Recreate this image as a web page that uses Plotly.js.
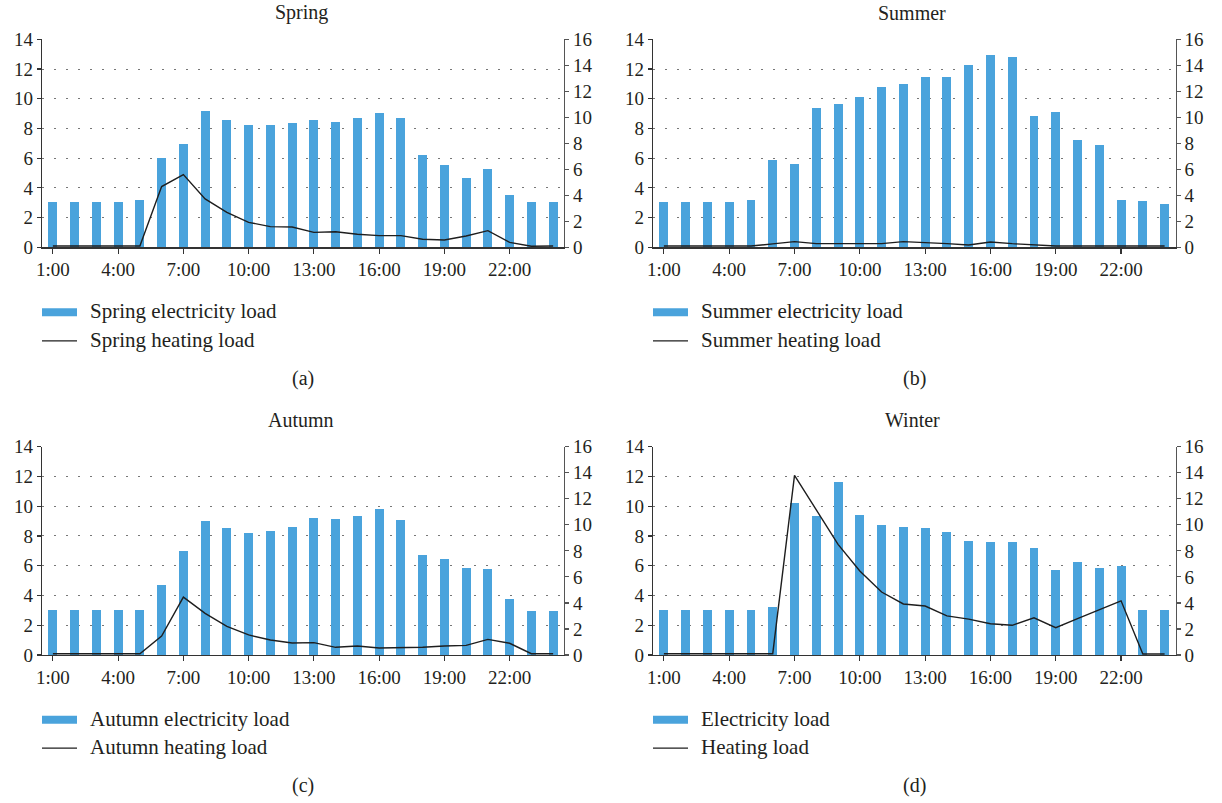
<!DOCTYPE html>
<html><head><meta charset="utf-8">
<script src="https://cdn.plot.ly/plotly-3.0.1.min.js"></script>
<style>html,body{margin:0;padding:0;background:#fff}#chart{width:1222px;height:803px}</style>
</head><body><div id="chart"></div>
<script>
// ---- data ----
const hours = ['1:00','2:00','3:00','4:00','5:00','6:00','7:00','8:00','9:00','10:00','11:00','12:00',
  '13:00','14:00','15:00','16:00','17:00','18:00','19:00','20:00','21:00','22:00','23:00','24:00'];
const tickLabels = ['1:00','4:00','7:00','10:00','13:00','16:00','19:00','22:00'];

const springElec = [3.05,3.05,3.05,3.05,3.18,6.01,6.95,9.17,8.56,8.23,8.23,8.36,8.56,8.43,8.70,9.04,8.70,6.21,5.54,4.66,5.27,3.52,3.05,3.05];
const springHeat = [0.1,0.1,0.1,0.1,0.1,4.67,5.59,3.72,2.69,1.92,1.59,1.56,1.15,1.2,1.0,0.9,0.9,0.62,0.56,0.87,1.28,0.38,0.08,0.1];

const summerElec = [3.05,3.05,3.05,3.05,3.18,5.87,5.6,9.37,9.64,10.11,10.78,10.99,11.46,11.46,12.26,12.94,12.8,8.83,9.1,7.22,6.88,3.18,3.12,2.91];
const summerHeat = [0.1,0.1,0.1,0.1,0.1,0.26,0.44,0.28,0.28,0.28,0.28,0.44,0.38,0.28,0.18,0.41,0.28,0.18,0.1,0.1,0.1,0.1,0.1,0.1];

const autumnElec = [3.02,3.02,3.02,3.02,3.02,4.7,6.99,9.0,8.53,8.2,8.33,8.6,9.2,9.14,9.34,9.81,9.07,6.7,6.43,5.83,5.76,3.74,2.94,2.94];
const autumnHeat = [0.1,0.1,0.1,0.1,0.1,1.46,4.45,3.2,2.2,1.54,1.15,0.92,0.95,0.59,0.69,0.54,0.57,0.59,0.69,0.74,1.2,0.9,0.1,0.1];

const winterElec = [3.02,3.02,3.02,3.02,3.02,3.25,10.21,9.34,11.63,9.41,8.74,8.6,8.53,8.27,7.66,7.6,7.6,7.2,5.72,6.26,5.85,5.99,3.03,3.03];
const winterHeat = [0.1,0.1,0.1,0.1,0.1,0.1,13.8,11.2,8.5,6.45,4.84,3.92,3.76,3.0,2.76,2.4,2.28,2.86,2.1,2.8,3.45,4.16,0.08,0.08];

const seasonTitles = ['Spring','Summer','Autumn','Winter'];
const panelTags = ['(a)','(b)','(c)','(d)'];
const elecNames = ['Spring electricity load','Summer electricity load','Autumn electricity load','Electricity load'];
const heatNames = ['Spring heating load','Summer heating load','Autumn heating load','Heating load'];
const elecSeries = [springElec, summerElec, autumnElec, winterElec];
const heatSeries = [springHeat, summerHeat, autumnHeat, winterHeat];

// ---- layout geometry (pixels) ----
const W = 1222, H = 803;
const FONT = 'Liberation Serif, DejaVu Serif, serif';
const TXT = '#231f20';
const BAR = '#4aa3dc';
const boxes = [
  {x0: 42,  x1: 564,    y0: 39.3,  y1: 247.3},
  {x0: 653, x1: 1175.5, y0: 39.3,  y1: 247.3},
  {x0: 42,  x1: 564,    y0: 446.7, y1: 655},
  {x0: 653, x1: 1175.5, y0: 446.7, y1: 655}
];
const px = v => v / W;
const py = v => 1 - v / H;

const traces = [];
const layout = {
  width: W, height: H,
  margin: {l: 0, r: 0, t: 0, b: 0},
  paper_bgcolor: '#fff', plot_bgcolor: 'rgba(0,0,0,0)',
  showlegend: false,
  font: {family: FONT, color: TXT, size: 19},
  bargap: 0,
  annotations: [], shapes: []
};

boxes.forEach((b, i) => {
  const xa = 'xaxis' + (i + 1), xr = 'x' + (i + 1);
  const yl = 2 * i + 1, yr = 2 * i + 2;
  const ylName = 'yaxis' + yl, yrName = 'yaxis' + yr;
  const ylRef = 'y' + yl, yrRef = 'y' + yr;

  traces.push({
    type: 'bar', x: hours, y: elecSeries[i], xaxis: xr, yaxis: ylRef,
    name: elecNames[i], width: 0.41, marker: {color: BAR, line: {width: 0}},
    hoverinfo: 'x+y'
  });
  traces.push({
    type: 'scatter', mode: 'lines', x: hours, y: heatSeries[i], xaxis: xr, yaxis: yrRef,
    name: heatNames[i], line: {color: '#1e1e1e', width: 1.4}, hoverinfo: 'x+y'
  });

  layout[xa] = {
    domain: [px(b.x0), px(b.x1)], anchor: ylRef, type: 'category',
    categoryorder: 'array', categoryarray: hours,
    range: [-0.5, 23.5], tickmode: 'array', tickvals: tickLabels, ticktext: tickLabels,
    ticks: 'outside', ticklen: 5, tickwidth: 1.2, tickcolor: '#333',
    showline: true, linecolor: '#333', linewidth: 1.3,
    showgrid: false, zeroline: false, fixedrange: true,
    tickfont: {family: FONT, size: 19, color: TXT}
  };
  layout[ylName] = {
    domain: [py(b.y1), py(b.y0)], anchor: xr, range: [0, 14], dtick: 2, tick0: 0,
    ticks: 'outside', ticklen: 4, tickwidth: 1.2, tickcolor: '#333',
    showline: true, linecolor: '#333', linewidth: 1.3,
    showgrid: true, gridcolor: '#777', gridwidth: 1, griddash: '1.5px,10.5px',
    zeroline: false, fixedrange: true,
    tickfont: {family: FONT, size: 19, color: TXT}
  };
  layout[yrName] = {
    overlaying: ylRef, anchor: xr, side: 'right', range: [0, 16], dtick: 2, tick0: 0,
    ticks: 'outside', ticklen: 4, tickwidth: 1.2, tickcolor: '#555',
    showline: true, linecolor: '#555', linewidth: 1.3,
    showgrid: false, zeroline: false, fixedrange: true,
    tickfont: {family: FONT, size: 19, color: TXT}
  };

  const cx = (b.x0 + b.x1) / 2;
  // subplot title
  layout.annotations.push({
    xref: 'paper', yref: 'paper', x: px(cx - 2), y: py(b.y0 - 26.5), xanchor: 'center', yanchor: 'middle',
    text: seasonTitles[i], showarrow: false, font: {family: FONT, size: 20, color: TXT}
  });
  // panel tag
  layout.annotations.push({
    xref: 'paper', yref: 'paper', x: px(cx), y: py(b.y0 + 339), xanchor: 'center', yanchor: 'middle',
    text: panelTags[i], showarrow: false, font: {family: FONT, size: 20, color: TXT}
  });
  // legend (custom swatches)
  const r1 = b.y0 + 273, r2 = b.y0 + 301.5;
  layout.shapes.push({
    type: 'rect', xref: 'paper', yref: 'paper',
    x0: px(b.x0), x1: px(b.x0 + 35), y0: py(r1 + 4), y1: py(r1 - 4),
    fillcolor: BAR, line: {width: 0}
  });
  layout.shapes.push({
    type: 'line', xref: 'paper', yref: 'paper',
    x0: px(b.x0), x1: px(b.x0 + 35), y0: py(r2), y1: py(r2),
    line: {color: '#1e1e1e', width: 1.3}
  });
  layout.annotations.push({
    xref: 'paper', yref: 'paper', x: px(b.x0 + 46), y: py(r1 - 1), xanchor: 'left', yanchor: 'middle',
    text: elecNames[i], showarrow: false, font: {family: FONT, size: 21, color: TXT}
  });
  layout.annotations.push({
    xref: 'paper', yref: 'paper', x: px(b.x0 + 46), y: py(r2 - 1), xanchor: 'left', yanchor: 'middle',
    text: heatNames[i], showarrow: false, font: {family: FONT, size: 21, color: TXT}
  });
});

Plotly.newPlot('chart', traces, layout, {displayModeBar: false, staticPlot: true});
</script>
</body></html>
